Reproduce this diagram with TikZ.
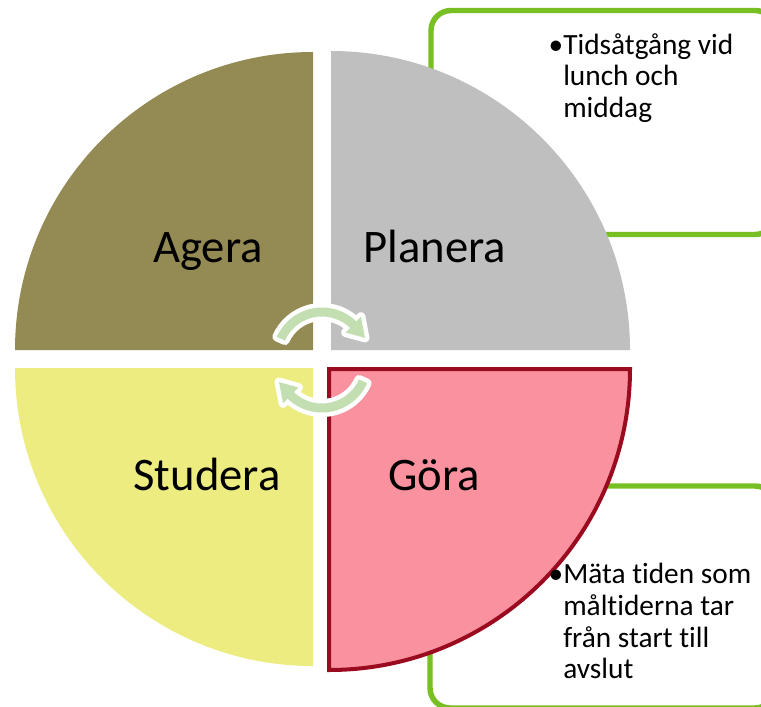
\documentclass[tikz,border=0pt]{standalone}
\usepackage{fontspec}
\setmainfont[Ligatures={NoCommon,NoContextual}]{Carlito}
\definecolor{boxgreen}{RGB}{120,191,35}
\definecolor{ageracol}{RGB}{148,138,84}
\definecolor{planeracol}{RGB}{191,191,191}
\definecolor{studeracol}{RGB}{236,236,128}
\definecolor{goracol}{RGB}{249,145,158}
\definecolor{goraedge}{RGB}{155,11,31}
\definecolor{arrowfill}{RGB}{195,223,178}
\tikzset{
  notebox/.style={draw=boxgreen, line width=4.1pt, rounded corners=15pt},
  notetext/.style={anchor=north west, inner sep=0pt, align=left,
    font=\fontsize{22pt}{23.8pt}\selectfont},
  quadlabel/.style={anchor=base, inner sep=0pt, font=\fontsize{35pt}{42pt}\selectfont},
  arrowrim/.style={draw=white, line width=6.75pt, line join=round},
  arrowbody/.style={fill=arrowfill},
}
% block arc arrow around the current origin: tail angle #1, head base #2, tip #3
\newcommand{\cyclearrow}[3]{%
  (#1:40.5) arc[start angle=#1, end angle=#2, radius=40.5]
  -- (#2:34) -- (#3:47) -- (#2:56) -- (#2:49.5)
  arc[start angle=#2, end angle=#1, radius=49.5] -- cycle}
\begin{document}
\begin{tikzpicture}[x=0.75pt, y=-0.75pt]
  \useasboundingbox (0,0) rectangle (761,707);
  \clip (0,0) rectangle (761,707);
  \fill[white] (0,0) rectangle (761,707);

  % note frames behind the circle
  \draw[notebox] (431,10.5) rectangle (775,234.5);
  \draw[notebox] (430,486) rectangle (775,708);

  % four quadrants
  \fill[ageracol] (313,350) -- ++(-298,0) arc[start angle=180, end angle=270, radius=298] -- cycle;
  \fill[planeracol] (331,350) -- ++(0,-299) arc[start angle=270, end angle=360, radius=299] -- cycle;
  \fill[studeracol] (313,368) -- ++(0,298) arc[start angle=90, end angle=180, radius=298] -- cycle;
  \filldraw[fill=goracol, draw=goraedge, line width=3pt]
    (329,369) -- ++(301,0) arc[start angle=0, end angle=90, radius=301] -- cycle;

  \node[quadlabel] (agera) at (208,262) {Agera};
  \node[quadlabel] (planera) at (435,262) {Planera};
  \node[quadlabel] (studera) at (207,490) {Studera};
  \node[quadlabel] (gora) at (434,490) {Göra};

  % cycle arrows in the middle
  \begin{scope}[shift={(322,357)}]
    \path[arrowrim] \cyclearrow{204}{314}{336};
    \path[arrowbody] \cyclearrow{204}{314}{336};
  \end{scope}
  \begin{scope}[shift={(322,363)}]
    \path[arrowrim] \cyclearrow{24}{134}{156};
    \path[arrowbody] \cyclearrow{24}{134}{156};
  \end{scope}

  % notes
  \node[notetext] (planeranote) at (563,33) {\llap{•}Tidsåtgång vid\\lunch och\\middag};
  \node[notetext] (goranote) at (563,563) {\llap{•}Mäta tiden som\\måltiderna tar\\från start till\\avslut};
\end{tikzpicture}
\end{document}
